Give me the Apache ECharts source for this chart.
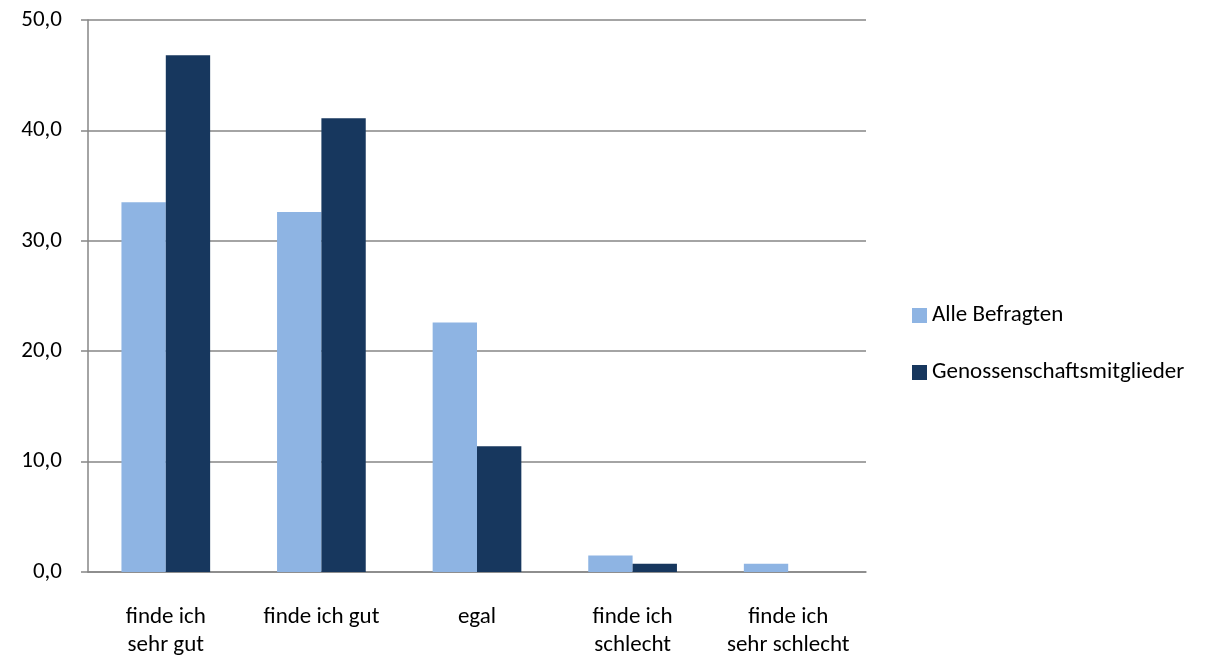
<!DOCTYPE html>
<html>
<head>
<meta charset="utf-8">
<script src="https://cdn.jsdelivr.net/npm/echarts@6/dist/echarts.min.js"></script>
<style>
  html, body { margin: 0; padding: 0; background: #fff; }
  #chart { width: 1219px; height: 659px; }
</style>
</head>
<body>
<div id="chart"></div>
<script>
// Antworten (Prozent)
const categories = ['finde ich\nsehr gut', 'finde ich gut', 'egal', 'finde ich\nschlecht', 'finde ich\nsehr schlecht'];
const alleBefragten = [33.5, 32.6, 22.6, 1.5, 0.75];
const genossenschaftsmitglieder = [46.8, 41.1, 11.4, 0.75, 0];
const seriesNames = ['Alle Befragten', 'Genossenschaftsmitglieder'];

const FONT = "'Carlito', 'Liberation Sans Narrow', 'Open Sans', sans-serif";
const chart = echarts.init(document.getElementById('chart'));

chart.setOption({
  animation: false,
  textStyle: { fontFamily: FONT },
  grid: { left: 88, right: 353, top: 20, bottom: 87, containLabel: false },
  legend: {
    orient: 'vertical',
    left: 907,
    top: 299,
    itemWidth: 15,
    itemHeight: 15,
    itemGap: 34,
    icon: 'rect',
    textStyle: { fontFamily: FONT, fontSize: 23, color: '#000', lineHeight: 23 },
    data: seriesNames
  },
  xAxis: {
    type: 'category',
    data: categories,
    axisLine: { lineStyle: { color: '#868686', width: 1.5 } },
    axisTick: { length: 7, lineStyle: { color: '#868686', width: 1.5 } },
    axisLabel: { fontFamily: FONT, fontSize: 23, color: '#000', lineHeight: 28, margin: 31, interval: 0 }
  },
  yAxis: {
    type: 'value',
    min: 0,
    max: 50,
    interval: 10,
    axisLine: { show: true, lineStyle: { color: '#868686', width: 1.5 } },
    axisTick: { show: true, length: 7, lineStyle: { color: '#868686', width: 1.5 } },
    splitLine: { lineStyle: { color: '#868686', width: 1.5 } },
    axisLabel: {
      fontFamily: FONT, fontSize: 23, color: '#000', margin: 26,
      formatter: v => v.toFixed(1).replace('.', ',')
    }
  },
  series: [
    {
      name: seriesNames[0],
      type: 'bar',
      data: alleBefragten,
      barGap: '0%',
      barCategoryGap: '43%',
      itemStyle: { color: '#8EB4E3' }
    },
    {
      name: seriesNames[1],
      type: 'bar',
      data: genossenschaftsmitglieder,
      barGap: '0%',
      barCategoryGap: '43%',
      itemStyle: { color: '#17375E' }
    }
  ]
});
</script>
</body>
</html>
